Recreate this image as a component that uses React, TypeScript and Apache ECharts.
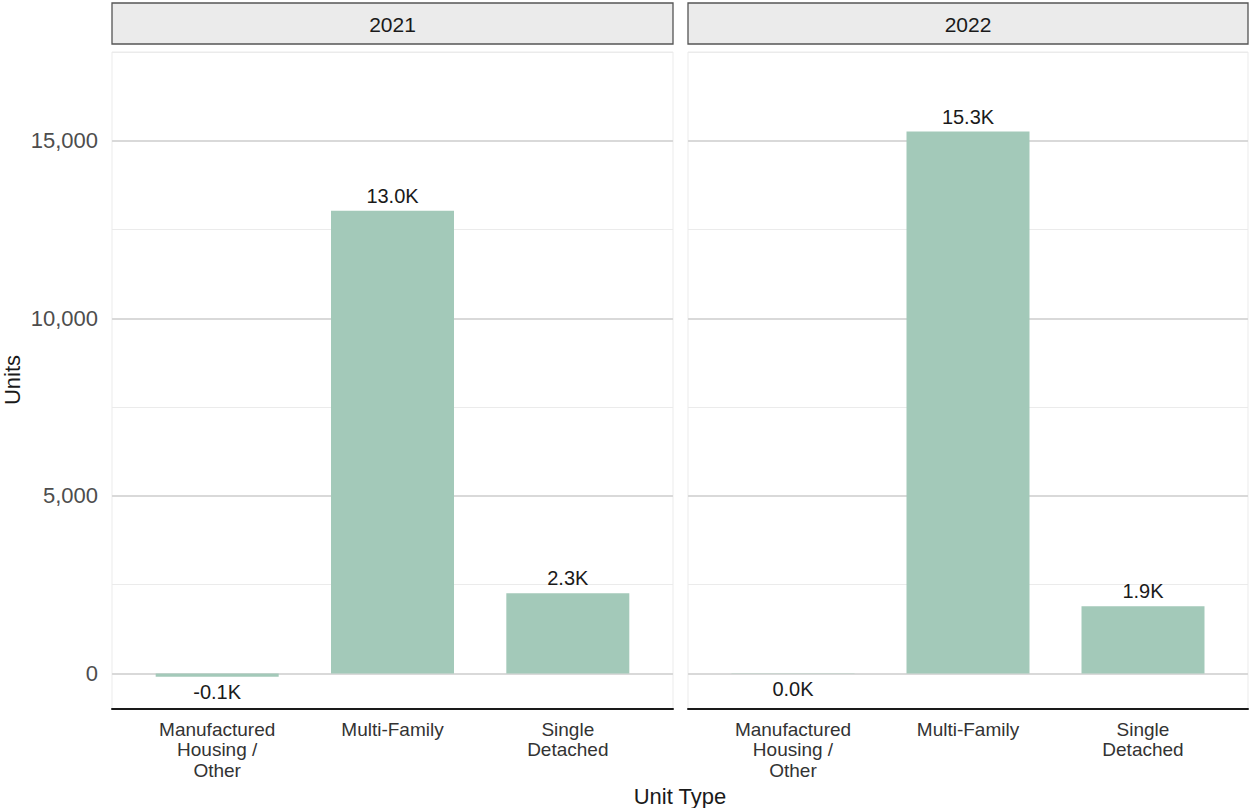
import React, { useEffect, useRef } from 'react';
import * as echarts from 'echarts';

const years = ['2021', '2022'];
const unitTypes = ['Manufactured\nHousing /\nOther', 'Multi-Family', 'Single\nDetached'];
const units2021 = [-90, 13030, 2260];
const units2022 = [-10, 15260, 1890];
const panelValues = [units2021, units2022];
const majorTicks = [0, 5000, 10000, 15000];
const minorTicks = [2500, 7500, 12500, 17500];
const yMin = -1000;
const yMax = 17500;
const xTitle = 'Unit Type';
const yTitle = 'Units';

const FONT = '"Liberation Sans", Arial, Helvetica, sans-serif';
const BAR_COLOR = '#a3c9b9';

const panels = [
  { left: 112, width: 561 },
  { left: 688, width: 560 },
];
const TOP = 52;
const HEIGHT = 657;

function fmtK(v: number): string {
  const s = (v / 1000).toFixed(1);
  return (s === '-0.0' ? '0.0' : s) + 'K';
}

export default function App() {
  const ref = useRef<HTMLDivElement>(null);
  useEffect(() => {
    document.body.style.margin = '0';
    const chart = echarts.init(ref.current!, undefined, { renderer: 'svg' });
    const option: any = {
      animation: false,
      backgroundColor: '#ffffff',
      textStyle: { fontFamily: FONT },
      grid: panels.map((p) => ({
        left: p.left,
        top: TOP,
        width: p.width,
        height: HEIGHT,
        show: true,
        backgroundColor: '#ffffff',
        borderColor: '#ebebeb',
        borderWidth: 1,
        containLabel: false,
      })),
      xAxis: panels.map((p, i) => ({
        type: 'value',
        gridIndex: i,
        min: 0.4,
        max: 3.6,
        splitLine: { show: false },
        axisTick: { show: false },
        axisLine: { show: true, onZero: false, lineStyle: { color: '#1a1a1a', width: 2 } },
        axisLabel: {
          customValues: [1, 2, 3],
          formatter: (v: number) => unitTypes[Math.round(v) - 1] ?? '',
          fontSize: 19,
          lineHeight: 20.5,
          color: '#333333',
          margin: 10,
          fontFamily: FONT,
          hideOverlap: false,
        },
      })),
      yAxis: panels.map((p, i) => ({
        type: 'value',
        gridIndex: i,
        min: yMin,
        max: yMax,
        axisLine: { show: false },
        axisTick: { show: false },
        splitLine: { show: false },
        axisLabel: {
          show: i === 0,
          customValues: majorTicks,
          formatter: (v: number) => v.toLocaleString('en-US'),
          fontSize: 22,
          color: '#4d4d4d',
          margin: 14,
          fontFamily: FONT,
        },
      })),
      series: panelValues.map((vals, i) => ({
        type: 'bar',
        name: years[i],
        xAxisIndex: i,
        yAxisIndex: i,
        barWidth: 123,
        z: 2,
        data: vals.map((v, k) => [k + 1, v]),
        itemStyle: { color: BAR_COLOR },
        label: {
          show: true,
          position: 'outside',
          distance: 5,
          formatter: (p: any) => fmtK(p.value[1]),
          fontSize: 20,
          color: '#1a1a1a',
          fontFamily: FONT,
        },
        markLine: {
          silent: true,
          symbol: 'none',
          z: 1,
          label: { show: false },
          data: [
            ...minorTicks.map((v) => ({ yAxis: v, lineStyle: { color: '#ebebeb', width: 1, type: 'solid' } })),
            ...majorTicks.map((v) => ({ yAxis: v, lineStyle: { color: '#d9d9d9', width: 2, type: 'solid' } })),
          ],
        },
      })),
      graphic: [
        ...panels.flatMap((p, i) => [
          {
            type: 'rect',
            shape: { x: p.left, y: 3, width: p.width, height: 41 },
            style: { fill: '#ebebeb', stroke: '#555555', lineWidth: 1.3 },
          },
          {
            type: 'text',
            x: p.left + p.width / 2,
            y: 24,
            style: {
              text: years[i],
              fill: '#1a1a1a',
              font: `21px ${FONT}`,
              textAlign: 'center',
              textVerticalAlign: 'middle',
            },
          },
        ]),
        {
          type: 'text',
          x: 680,
          y: 796,
          style: {
            text: xTitle,
            fill: '#1a1a1a',
            font: `22px ${FONT}`,
            textAlign: 'center',
            textVerticalAlign: 'middle',
          },
        },
        {
          type: 'text',
          x: 12,
          y: 380,
          rotation: Math.PI / 2,
          style: {
            text: yTitle,
            fill: '#1a1a1a',
            font: `22px ${FONT}`,
            textAlign: 'center',
            textVerticalAlign: 'middle',
          },
        },
      ],
    };
    chart.setOption(option);
    return () => chart.dispose();
  }, []);
  return (
    <div
      ref={ref}
      style={{ position: 'fixed', left: 0, top: 0, width: 1249, height: 808 }}
    />
  );
}
